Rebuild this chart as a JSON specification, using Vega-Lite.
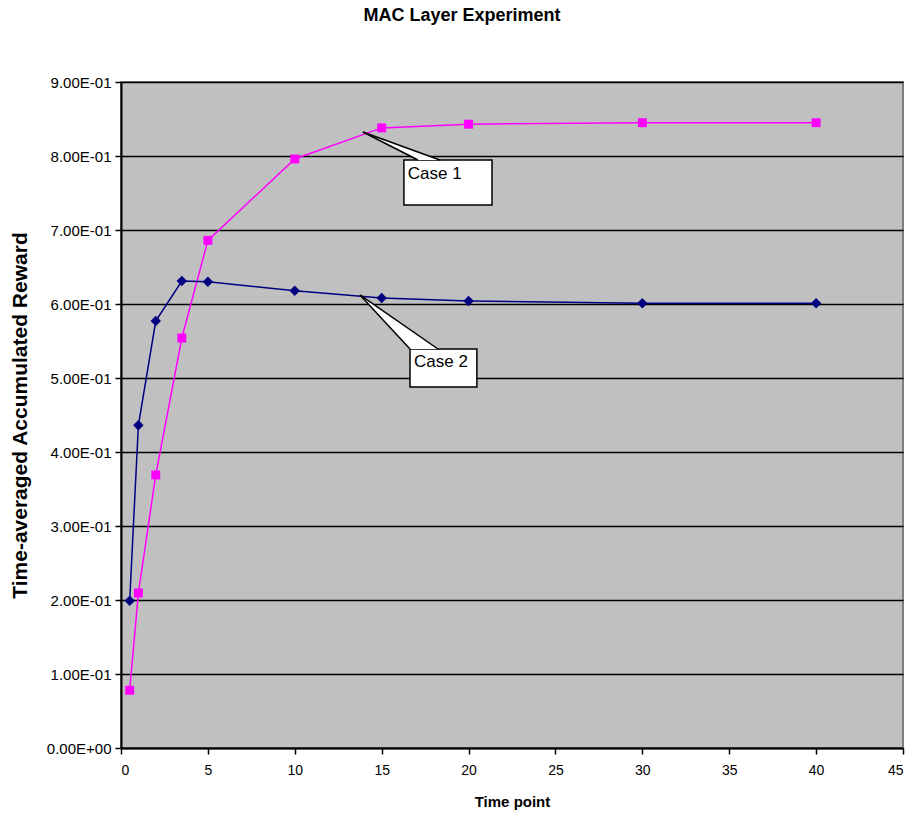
{
  "$schema": "https://vega.github.io/schema/vega-lite/v6.json",
  "autosize": {"type": "none"},
  "padding": {"left": 121, "top": 82, "right": 12, "bottom": 67},
  "width": 782,
  "height": 666,
  "background": "white",
  "title": {
    "text": "MAC Layer Experiment",
    "font": "Liberation Sans",
    "fontSize": 18,
    "fontWeight": "bold",
    "color": "black",
    "anchor": "middle",
    "frame": "group",
    "offset": 50,
    "dx": -50
  },
  "config": {
    "view": {"fill": "#C0C0C0", "stroke": "#808080", "strokeWidth": 2},
    "font": "Liberation Sans"
  },
  "datasets": {
    "series": [
      {"t": 0.5, "v": 0.078, "case": "Case 1"},
      {"t": 1, "v": 0.2095, "case": "Case 1"},
      {"t": 2, "v": 0.369, "case": "Case 1"},
      {"t": 3.5, "v": 0.554, "case": "Case 1"},
      {"t": 5, "v": 0.686, "case": "Case 1"},
      {"t": 10, "v": 0.796, "case": "Case 1"},
      {"t": 15, "v": 0.838, "case": "Case 1"},
      {"t": 20, "v": 0.843, "case": "Case 1"},
      {"t": 30, "v": 0.845, "case": "Case 1"},
      {"t": 40, "v": 0.845, "case": "Case 1"},
      {"t": 0.5, "v": 0.199, "case": "Case 2"},
      {"t": 1, "v": 0.436, "case": "Case 2"},
      {"t": 2, "v": 0.577, "case": "Case 2"},
      {"t": 3.5, "v": 0.631, "case": "Case 2"},
      {"t": 5, "v": 0.630, "case": "Case 2"},
      {"t": 10, "v": 0.618, "case": "Case 2"},
      {"t": 15, "v": 0.608, "case": "Case 2"},
      {"t": 20, "v": 0.604, "case": "Case 2"},
      {"t": 30, "v": 0.601, "case": "Case 2"},
      {"t": 40, "v": 0.601, "case": "Case 2"}
    ],
    "boxes": [
      {"label": "Case 1", "x1": 16.28, "x2": 21.35, "y1": 0.7946, "y2": 0.7338, "tx": 16.5, "ty": 0.776},
      {"label": "Case 2", "x1": 16.63, "x2": 20.48, "y1": 0.5392, "y2": 0.4878, "tx": 16.86, "ty": 0.521}
    ],
    "wedges": [
      {"label": "Case 1", "wy": 0.8324, "xa": 13.92, "xb": 13.92},
      {"label": "Case 1", "wy": 0.7946, "xa": 17.09, "xb": 18.35},
      {"label": "Case 2", "wy": 0.6122, "xa": 13.75, "xb": 13.75},
      {"label": "Case 2", "wy": 0.5392, "xa": 16.63, "xb": 18.24}
    ],
    "edges": [
      {"x1": 13.92, "y1": 0.8324, "x2": 17.09, "y2": 0.7946},
      {"x1": 13.92, "y1": 0.8324, "x2": 18.35, "y2": 0.7946},
      {"x1": 13.75, "y1": 0.6122, "x2": 16.63, "y2": 0.5392},
      {"x1": 13.75, "y1": 0.6122, "x2": 18.24, "y2": 0.5392}
    ]
  },
  "layer": [
    {
      "data": {"name": "series"},
      "mark": {"type": "line", "interpolate": "linear", "strokeWidth": 1.5},
      "encoding": {
        "x": {
          "field": "t", "type": "quantitative",
          "scale": {"domain": [0, 45], "nice": false, "zero": false},
          "axis": {
            "title": "Time point",
            "values": [0, 5, 10, 15, 20, 25, 30, 35, 40, 45],
            "grid": false,
            "domainColor": "black", "domainWidth": 2,
            "tickColor": "black", "tickWidth": 1.5, "tickSize": 6,
            "labelFontSize": 14, "labelColor": "black", "labelPadding": 9,
            "titleFontSize": 15, "titleFontWeight": "bold", "titleColor": "black", "titlePadding": 17
          }
        },
        "y": {
          "field": "v", "type": "quantitative",
          "scale": {"domain": [0, 0.9], "nice": false},
          "axis": {
            "title": "Time-averaged Accumulated Reward",
            "values": [0, 0.1, 0.2, 0.3, 0.4, 0.5, 0.6, 0.7, 0.8, 0.9],
            "labelExpr": "datum.value == 0 ? '0.00E+00' : replace(format(datum.value, '.2e'), 'e-', 'E-0')",
            "grid": true, "gridColor": "black", "gridWidth": 1.5, "gridOpacity": 1,
            "domainColor": "black", "domainWidth": 2,
            "tickColor": "black", "tickWidth": 1.5, "tickSize": 6,
            "labelFontSize": 15, "labelColor": "black", "labelPadding": 4,
            "titleFontSize": 21, "titleFontWeight": "bold", "titleColor": "black", "titlePadding": 16
          }
        },
        "color": {
          "field": "case", "type": "nominal",
          "scale": {"domain": ["Case 1", "Case 2"], "range": ["#FF00FF", "#000080"]},
          "legend": null
        }
      }
    },
    {
      "data": {"name": "series"},
      "mark": {"type": "point", "filled": true, "opacity": 1},
      "encoding": {
        "x": {"field": "t", "type": "quantitative"},
        "y": {"field": "v", "type": "quantitative"},
        "color": {"field": "case", "type": "nominal", "legend": null},
        "shape": {
          "field": "case", "type": "nominal",
          "scale": {"domain": ["Case 1", "Case 2"], "range": ["square", "diamond"]},
          "legend": null
        },
        "size": {
          "field": "case", "type": "nominal",
          "scale": {"domain": ["Case 1", "Case 2"], "range": [80, 110]},
          "legend": null
        }
      }
    },
    {
      "data": {"name": "boxes"},
      "mark": {"type": "rect", "fill": "white", "stroke": "black", "strokeWidth": 1.5},
      "encoding": {
        "x": {"field": "x1", "type": "quantitative"},
        "x2": {"field": "x2"},
        "y": {"field": "y1", "type": "quantitative"},
        "y2": {"field": "y2"}
      }
    },
    {
      "data": {"name": "wedges"},
      "mark": {"type": "area", "orient": "horizontal", "fill": "white", "opacity": 1},
      "encoding": {
        "y": {"field": "wy", "type": "quantitative"},
        "x": {"field": "xa", "type": "quantitative"},
        "x2": {"field": "xb"},
        "detail": {"field": "label"}
      }
    },
    {
      "data": {"name": "edges"},
      "mark": {"type": "rule", "color": "black", "strokeWidth": 1.5},
      "encoding": {
        "x": {"field": "x1", "type": "quantitative"},
        "x2": {"field": "x2"},
        "y": {"field": "y1", "type": "quantitative"},
        "y2": {"field": "y2"}
      }
    },
    {
      "data": {"name": "boxes"},
      "mark": {"type": "text", "align": "left", "baseline": "middle", "fontSize": 17, "color": "black", "font": "Liberation Sans"},
      "encoding": {
        "x": {"field": "tx", "type": "quantitative"},
        "y": {"field": "ty", "type": "quantitative"},
        "text": {"field": "label"}
      }
    }
  ]
}
